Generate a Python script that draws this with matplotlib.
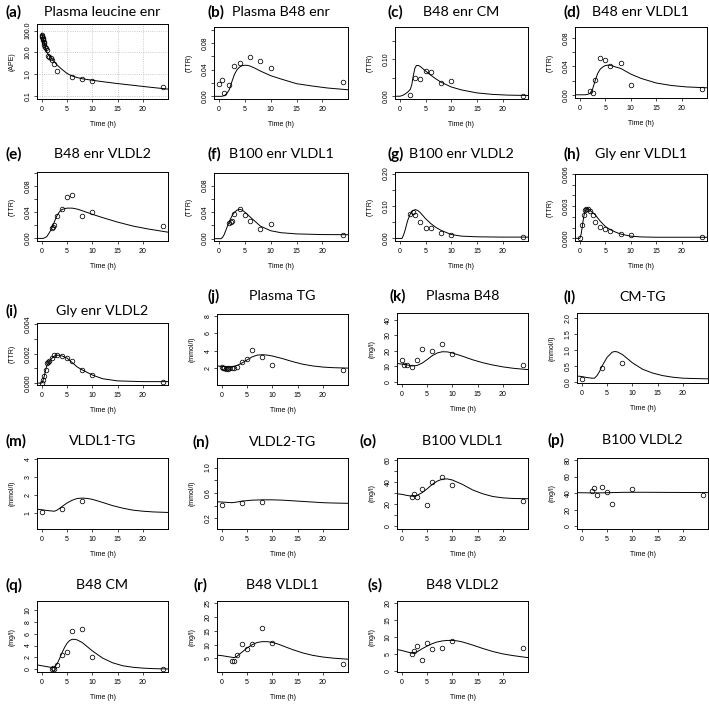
import matplotlib
matplotlib.use("Agg")
import matplotlib.pyplot as plt

W, H = 709, 707

# (a) Plasma leucine enr
a_obs_t = [0, 0.05, 0.1, 0.15, 0.2, 0.25, 0.33, 0.42, 0.5, 0.67, 0.83, 1, 1.25, 1.5, 1.75, 2, 2.5, 3, 6, 8, 10, 24]
a_obs_y = [60, 55, 50, 45, 40, 35, 30, 26, 22, 18, 15, 13, 6.5, 6.2, 5.5, 4.5, 3.0, 1.4, 0.72, 0.57, 0.48, 0.24]
a_fit_t = [0, 0.25, 0.5, 0.75, 1, 1.5, 2, 2.5, 3, 4, 5, 6, 7, 8, 10, 12, 15, 18, 21, 25]
a_fit_y = [75, 40, 24, 15, 10, 6.5, 4.8, 3.5, 2.6, 1.6, 1.05, 0.8, 0.68, 0.6, 0.51, 0.44, 0.36, 0.3, 0.25, 0.2]

# (b) Plasma B48 enr
b_obs_t = [0, 0.5, 1, 2, 3, 4, 6, 8, 10, 24]
b_obs_y = [0.018, 0.024, 0.0055, 0.017, 0.046, 0.050, 0.059, 0.053, 0.042, 0.021]
b_fit_t = [-1, 0.5, 1, 1.5, 2, 2.5, 3, 3.5, 4, 4.5, 5, 5.5, 6, 7, 8, 10, 12, 15, 18, 21, 25]
b_fit_y = [0, 0, 0.001, 0.004, 0.010, 0.022, 0.033, 0.040, 0.044, 0.046, 0.0466, 0.0464, 0.0455, 0.042, 0.038,
           0.031, 0.026, 0.019, 0.0155, 0.0125, 0.0098]

# (c) B48 enr CM
c_obs_t = [2, 3, 4, 5, 6, 8, 10, 24]
c_obs_y = [0.002, 0.05, 0.047, 0.067, 0.065, 0.037, 0.041, 0.0]
c_fit_t = [-1, 0, 0.5, 1, 1.5, 2, 2.3, 2.6, 2.9, 3.2, 3.6, 4, 5, 6, 7, 8, 10, 12, 15, 18, 21, 25]
c_fit_y = [0, 0, 0.002, 0.006, 0.011, 0.018, 0.03, 0.055, 0.075, 0.083, 0.083, 0.08, 0.068, 0.057, 0.047, 0.038,
           0.025, 0.017, 0.009, 0.005, 0.003, 0.002]

# (d) B48 enr VLDL1
d_obs_t = [2, 2.5, 3, 4, 5, 6, 8, 10, 24]
d_obs_y = [0.005, 0.0025, 0.021, 0.051, 0.049, 0.041, 0.045, 0.014, 0.0085]
d_fit_t = [-1, 1, 1.5, 2, 2.5, 3, 3.5, 4, 4.5, 5, 5.5, 6, 7, 8, 10, 12, 15, 18, 21, 25]
d_fit_y = [0, 0, 0.0005, 0.002, 0.008, 0.02, 0.03, 0.036, 0.039, 0.041, 0.0415, 0.0413, 0.039, 0.037, 0.029,
           0.023, 0.0165, 0.013, 0.011, 0.0098]

# (e) B48 enr VLDL2
e_obs_t = [2, 2.25, 2.5, 3, 4, 5, 6, 8, 10, 24]
e_obs_y = [0.016, 0.018, 0.0205, 0.035, 0.045, 0.064, 0.066, 0.034, 0.041, 0.019]
e_fit_t = [-1, 0.3, 0.7, 1, 1.5, 2, 2.5, 3, 3.5, 4, 5, 6, 7, 8, 10, 12, 15, 18, 21, 25]
e_fit_y = [0, 0, 0.0015, 0.003, 0.009, 0.016, 0.026, 0.035, 0.041, 0.0445, 0.0465, 0.0465, 0.045, 0.0425,
           0.037, 0.032, 0.025, 0.019, 0.0145, 0.0095]

# (f) B100 enr VLDL1
f_obs_t = [2, 2.25, 2.5, 3, 4, 5, 6, 8, 10, 24]
f_obs_y = [0.024, 0.025, 0.027, 0.037, 0.044, 0.035, 0.026, 0.015, 0.022, 0.005]
f_fit_t = [-1, 0.4, 0.7, 1, 1.5, 2, 2.5, 3, 3.5, 4, 4.5, 5, 6, 7, 8, 10, 12, 15, 20, 25]
f_fit_y = [0, 0, 0.002, 0.006, 0.016, 0.026, 0.034, 0.040, 0.043, 0.0443, 0.043, 0.040, 0.033, 0.026, 0.019,
           0.012, 0.009, 0.0072, 0.0062, 0.006]

# (g) B100 enr VLDL2
g_obs_t = [2, 2.5, 3, 4, 5, 6, 8, 10, 24]
g_obs_y = [0.075, 0.082, 0.073, 0.052, 0.031, 0.032, 0.017, 0.010, 0.004]
g_fit_t = [-1, 0.4, 0.7, 1, 1.5, 2, 2.5, 3, 3.5, 4, 5, 6, 7, 8, 10, 12, 15, 20, 25]
g_fit_y = [0, 0, 0.01, 0.025, 0.055, 0.075, 0.085, 0.089, 0.086, 0.079, 0.061, 0.046, 0.034, 0.025, 0.012,
           0.007, 0.005, 0.004, 0.004]

# (h) Gly enr VLDL1
h_obs_t = [0, 0.5, 0.75, 1, 1.25, 1.5, 2, 2.5, 3, 4, 5, 6, 8, 10, 24]
h_obs_y = [0.0, 0.00125, 0.0022, 0.00266, 0.0027, 0.0027, 0.00256, 0.0022, 0.00156, 0.0011, 0.00088, 0.0007,
           0.00038, 0.00028, 0.0001]
h_fit_t = [-1, 0, 0.25, 0.5, 0.75, 1, 1.25, 1.5, 1.75, 2, 2.5, 3, 4, 5, 6, 7, 8, 10, 12, 15, 20, 25]
h_fit_y = [0, 0, 0.0004, 0.0012, 0.002, 0.0025, 0.0028, 0.0028, 0.0027, 0.0026, 0.0024, 0.0022, 0.0016,
           0.0011, 0.0008, 0.00058, 0.0004, 0.0002, 0.00013, 0.0001, 0.0001, 0.0001]

# (i) Gly enr VLDL2
i_obs_t = [0, 0.25, 0.5, 0.75, 1, 1.25, 1.5, 2, 2.5, 3, 4, 5, 6, 8, 10, 24]
i_obs_y = [0.0, 0.0002, 0.0005, 0.0009, 0.0014, 0.00145, 0.0015, 0.0017, 0.0019, 0.0019, 0.00185, 0.0017,
           0.0015, 0.0009, 0.00055, 0.0001]
i_fit_t = [-1, 0, 0.25, 0.5, 0.75, 1, 1.5, 2, 2.5, 3, 3.5, 4, 5, 6, 7, 8, 10, 12, 15, 20, 25]
i_fit_y = [0, 0, 0.0002, 0.0005, 0.0009, 0.0012, 0.0015, 0.0017, 0.00185, 0.0019, 0.0019, 0.00185, 0.0017,
           0.0014, 0.0011, 0.0009, 0.00055, 0.0003, 0.00015, 0.0001, 0.0001]

# (j) Plasma TG
j_obs_t = [0, 0.25, 0.5, 0.75, 1, 1.25, 1.5, 2, 2.5, 3, 4, 5, 6, 8, 10, 24]
j_obs_y = [2.1, 2.0, 2.05, 1.95, 2.0, 1.95, 2.0, 2.0, 2.05, 2.15, 2.75, 3.05, 4.1, 3.3, 2.4, 1.8]
j_fit_t = [-1, 0, 1, 2, 3, 4, 5, 6, 7, 8, 9, 10, 12, 14, 16, 18, 20, 22, 25]
j_fit_y = [2.25, 2.2, 2.15, 2.15, 2.3, 2.6, 2.95, 3.3, 3.5, 3.55, 3.5, 3.4, 3.1, 2.75, 2.45, 2.25, 2.12, 2.05, 2.0]

# (k) Plasma B48
k_obs_t = [0, 0.5, 1, 2, 3, 4, 6, 8, 10, 24]
k_obs_y = [14.2, 11, 10.6, 9.8, 13.9, 21.5, 20.2, 24.5, 17.8, 11]
k_fit_t = [-1, 0, 1, 2, 3, 4, 5, 6, 7, 8, 9, 10, 12, 14, 16, 18, 20, 22, 25]
k_fit_y = [11.8, 11.4, 10.9, 10.2, 10.5, 12, 14.3, 16.8, 18.6, 19.4, 19.3, 18.6, 16.5, 14.2, 12.3, 10.8, 9.6,
           8.7, 7.8]

# (l) CM-TG
l_obs_t = [0, 4, 8]
l_obs_y = [0.1, 0.45, 0.58]
l_fit_t = [-1, 0, 1, 2, 2.5, 3, 3.5, 4, 5, 6, 6.5, 7, 8, 9, 10, 12, 14, 16, 18, 20, 22, 25]
l_fit_y = [0.19, 0.17, 0.14, 0.12, 0.12, 0.2, 0.33, 0.5, 0.77, 0.93, 0.95, 0.94, 0.86, 0.73, 0.6, 0.4, 0.28,
           0.2, 0.15, 0.12, 0.11, 0.1]

# (m) VLDL1-TG
m_obs_t = [0, 4, 8]
m_obs_y = [1.05, 1.22, 1.68]
m_fit_t = [-1, 0, 1, 2, 2.5, 3, 4, 5, 6, 7, 8, 9, 10, 12, 14, 16, 18, 20, 22, 25]
m_fit_y = [1.2, 1.17, 1.13, 1.1, 1.09, 1.15, 1.35, 1.55, 1.7, 1.8, 1.82, 1.8, 1.75, 1.58, 1.4, 1.26, 1.15,
           1.09, 1.05, 1.02]

# (n) VLDL2-TG
n_obs_t = [0, 4, 8]
n_obs_y = [0.41, 0.435, 0.46]
n_fit_t = [-1, 0, 1, 2, 3, 4, 6, 8, 10, 12, 14, 16, 18, 20, 22, 25]
n_fit_y = [0.46, 0.455, 0.45, 0.445, 0.455, 0.47, 0.485, 0.49, 0.49, 0.485, 0.475, 0.465, 0.455, 0.445,
           0.44, 0.435]

# (o) B100 VLDL1
o_obs_t = [2, 2.5, 3, 4, 5, 6, 8, 10, 24]
o_obs_y = [27, 29, 26.4, 34, 19.5, 40.6, 45, 37.5, 23]
o_fit_t = [-1, 0, 1, 2, 3, 4, 5, 6, 7, 8, 9, 10, 12, 14, 16, 18, 20, 22, 25]
o_fit_y = [29.5, 29, 28, 27.3, 28, 30.5, 34, 38, 41, 42.8, 43, 42, 38, 33, 29.5, 27, 25.8, 25.2, 25]

# (p) B100 VLDL2
p_obs_t = [2, 2.5, 3, 4, 5, 6, 10, 24]
p_obs_y = [42.7, 46.8, 37.4, 48, 41, 27.3, 45.6, 38.2]
p_fit_t = [-1, 2, 4, 6, 8, 10, 12, 15, 18, 21, 25]
p_fit_y = [40.6, 40.3, 40.4, 40.7, 41, 41.1, 41.1, 41, 40.9, 40.8, 40.7]

# (q) B48 CM
q_obs_t = [2, 2.25, 2.5, 3, 4, 5, 6, 8, 10, 24]
q_obs_y = [0.1, 0.15, 0.1, 0.66, 2.4, 2.9, 6.4, 6.8, 2.1, 0.1]
q_fit_t = [-1, 0, 1, 2, 2.5, 3, 3.5, 4, 4.5, 5, 5.5, 6, 6.5, 7, 8, 9, 10, 12, 14, 16, 18, 20, 22, 25]
q_fit_y = [0.75, 0.6, 0.45, 0.3, 0.35, 0.9, 1.8, 2.8, 3.7, 4.4, 4.85, 5.05, 5.05, 4.95, 4.5, 3.8, 3.1, 1.9,
           1.1, 0.6, 0.35, 0.2, 0.12, 0.06]

# (r) B48 VLDL1
r_obs_t = [2, 2.5, 3, 4, 5, 6, 8, 10, 24]
r_obs_y = [4.0, 4.0, 6.2, 10.2, 8.4, 10.1, 16.2, 10.7, 2.8]
r_fit_t = [-1, 0, 1, 2, 2.5, 3, 4, 5, 6, 7, 8, 9, 10, 11, 12, 14, 16, 18, 20, 22, 25]
r_fit_y = [6.2, 6.0, 5.7, 5.4, 5.3, 5.8, 7.3, 8.8, 10, 10.8, 11.1, 11.1, 10.8, 10.3, 9.6, 8.2, 7.0, 6.1,
           5.5, 5.1, 4.7]

# (s) B48 VLDL2
s_obs_t = [2, 2.5, 3, 4, 5, 6, 8, 10, 24]
s_obs_y = [5.0, 5.8, 7.2, 3.3, 8.1, 6.4, 6.7, 8.8, 6.7]
s_fit_t = [-1, 0, 1, 2, 3, 4, 5, 6, 7, 8, 9, 10, 11, 12, 14, 16, 18, 20, 22, 25]
s_fit_y = [6.3, 6.0, 5.6, 5.2, 5.6, 6.5, 7.3, 8.0, 8.5, 8.8, 8.95, 8.95, 8.8, 8.5, 7.6, 6.6, 5.7, 5.0, 4.5, 3.9]


def ticks(lo, hi, step):
    n = int(round((hi - lo) / step))
    return [lo + k * step for k in range(n + 1)]


# letter, title, ylabel, data, box (left, top, right, bottom in px), ylim, yticks,
# labelled ticks, fmt, letter x, title y
panels = [
    ("a", "Plasma leucine enr", "(APE)", (a_obs_t, a_obs_y, a_fit_t, a_fit_y), (37, 24, 168, 99),
     (0.07, 200), [0.1, 1, 10, 100], [0.1, 1, 10, 100], "{:.1f}", 5, 12),
    ("b", "Plasma B48 enr", "(TTR)", (b_obs_t, b_obs_y, b_fit_t, b_fit_y), (214, 27, 348, 99),
     (-0.004, 0.104), ticks(0, 0.1, 0.02), [0, 0.04, 0.08], "{:.2f}", 208, 12),
    ("c", "B48 enr CM", "(TTR)", (c_obs_t, c_obs_y, c_fit_t, c_fit_y), (395, 27, 528, 99),
     (-0.0075, 0.187), ticks(0, 0.15, 0.05), [0, 0.1], "{:.2f}", 388, 12),
    ("d", "B48 enr VLDL1", "(TTR)", (d_obs_t, d_obs_y, d_fit_t, d_fit_y), (575, 27, 707, 98),
     (-0.0045, 0.095), ticks(0, 0.08, 0.02), [0, 0.04, 0.08], "{:.2f}", 563, 12),
    ("e", "B48 enr VLDL2", "(TTR)", (e_obs_t, e_obs_y, e_fit_t, e_fit_y), (37, 172, 168, 241),
     (-0.004, 0.102), ticks(0, 0.1, 0.02), [0, 0.04, 0.08], "{:.2f}", 5, 154),
    ("f", "B100 enr VLDL1", "(TTR)", (f_obs_t, f_obs_y, f_fit_t, f_fit_y), (214, 173, 348, 241),
     (-0.0035, 0.099), ticks(0, 0.08, 0.02), [0, 0.04, 0.08], "{:.2f}", 208, 154),
    ("g", "B100 enr VLDL2", "(TTR)", (g_obs_t, g_obs_y, g_fit_t, g_fit_y), (395, 172, 528, 241),
     (-0.008, 0.205), ticks(0, 0.2, 0.05), [0, 0.1, 0.2], "{:.2f}", 388, 154),
    ("h", "Gly enr VLDL1", "(TTR)", (h_obs_t, h_obs_y, h_fit_t, h_fit_y), (575, 174, 707, 241),
     (-0.00025, 0.006), ticks(0, 0.006, 0.001), [0, 0.003, 0.006], "{:.3f}", 563, 154),
    ("i", "Gly enr VLDL2", "(TTR)", (i_obs_t, i_obs_y, i_fit_t, i_fit_y), (37, 323, 168, 385),
     (-0.00013, 0.0041), ticks(0, 0.004, 0.001), [0, 0.002, 0.004], "{:.3f}", 5, 311),
    ("j", "Plasma TG", "(mmol/l)", (j_obs_t, j_obs_y, j_fit_t, j_fit_y), (217, 314, 348, 385),
     (0.05, 8.25), [2, 4, 6, 8], [2, 4, 6, 8], "{:.0f}", 208, 296),
    ("k", "Plasma B48", "(mg/l)", (k_obs_t, k_obs_y, k_fit_t, k_fit_y), (397, 313, 528, 384),
     (-1.5, 44.5), ticks(0, 40, 10), ticks(0, 40, 10), "{:.0f}", 390, 296),
    ("l", "CM-TG", "(mmol/l)", (l_obs_t, l_obs_y, l_fit_t, l_fit_y), (577, 313, 708, 383),
     (-0.03, 2.15), ticks(0, 2, 0.5), ticks(0, 2, 0.5), "{:.1f}", 563, 297),
    ("m", "VLDL1-TG", "(mmol/l)", (m_obs_t, m_obs_y, m_fit_t, m_fit_y), (37, 458, 168, 529),
     (0.1, 4.05), [1, 2, 3, 4], [1, 2, 3, 4], "{:.0f}", 5, 441),
    ("n", "VLDL2-TG", "(mmol/l)", (n_obs_t, n_obs_y, n_fit_t, n_fit_y), (217, 458, 348, 529),
     (0.03, 1.15), ticks(0.2, 1.0, 0.2), [0.2, 0.6, 1.0], "{:.1f}", 192, 442),
    ("o", "B100 VLDL1", "(mg/l)", (o_obs_t, o_obs_y, o_fit_t, o_fit_y), (397, 458, 528, 529),
     (-2.5, 62), ticks(0, 60, 10), [0, 20, 40, 60], "{:.0f}", 360, 441),
    ("p", "B100 VLDL2", "(mg/l)", (p_obs_t, p_obs_y, p_fit_t, p_fit_y), (577, 458, 708, 529),
     (-3.3, 82.5), ticks(0, 80, 20), ticks(0, 80, 20), "{:.0f}", 548, 440),
    ("q", "B48 CM", "(mg/l)", (q_obs_t, q_obs_y, q_fit_t, q_fit_y), (37, 601, 168, 672),
     (-0.45, 11.5), ticks(0, 10, 2), ticks(0, 10, 2), "{:.0f}", 5, 585),
    ("r", "B48 VLDL1", "(mg/l)", (r_obs_t, r_obs_y, r_fit_t, r_fit_y), (217, 601, 348, 672),
     (0.05, 25.9), ticks(5, 25, 5), ticks(5, 25, 5), "{:.0f}", 193, 585),
    ("s", "B48 VLDL2", "(mg/l)", (s_obs_t, s_obs_y, s_fit_t, s_fit_y), (397, 601, 528, 672),
     (-0.3, 20.5), ticks(0, 20, 5), ticks(0, 20, 5), "{:.0f}", 368, 585),
]

TICK_FONT = "Liberation Sans"
TITLE_FONT = ["Lato", "DejaVu Sans"]
SMALL = 5

fig = plt.figure(figsize=(W / 100, H / 100), dpi=100)

for (letter, title, ylab, data, box, ylim, yt, ylab_ticks, fmt, lx, ty) in panels:
    obs_t, obs_y, fit_t, fit_y = data
    left, top, right, bottom = box
    ax = fig.add_axes([left / W, 1 - bottom / H, (right - left) / W, (bottom - top) / H])
    if letter == "a":
        ax.set_yscale("log")
        ax.grid(True, ls=":", color="#bbbbbb", lw=0.6)
    ax.plot(fit_t, fit_y, color="black", lw=0.7)
    ax.plot(obs_t, obs_y, "o", mfc="none", mec="black", ms=3.3, mew=0.55)
    ax.set_xlim(-0.96, 24.96)
    ax.set_ylim(*ylim)
    ax.set_xticks([0, 5, 10, 15, 20])
    ax.set_yticks(yt)
    ax.yaxis.set_minor_locator(matplotlib.ticker.NullLocator())
    labels = []
    for v in yt:
        if any(abs(v - u) < 1e-9 for u in ylab_ticks):
            labels.append(fmt.format(v))
        else:
            labels.append("")
    ax.set_yticklabels(labels, fontfamily=TICK_FONT, fontsize=SMALL, rotation=90, va="center")
    ax.set_xticklabels(["0", "5", "10", "15", "20"], fontfamily=TICK_FONT, fontsize=SMALL)
    ax.tick_params(direction="out", length=2.2, width=0.5, pad=1.5)
    ax.tick_params(axis="x", pad=3)
    for sp in ax.spines.values():
        sp.set_linewidth(0.7)
    hpx = bottom - top
    ax.set_xlabel("Time (h)", fontfamily=TICK_FONT, fontsize=SMALL)
    ax.xaxis.set_label_coords(0.5, -22 / hpx)
    ax.set_ylabel(ylab, fontfamily=TICK_FONT, fontsize=SMALL)
    ax.yaxis.set_label_coords(-21 / (right - left), 0.5)
    fig.text((left + right) / 2 / W, 1 - ty / H, title, fontfamily=TITLE_FONT, fontsize=10.3,
             ha="center", va="center")
    fig.text(lx / W, 1 - ty / H, "(" + letter + ")", fontfamily=TITLE_FONT, fontsize=11,
             fontweight="bold", ha="left", va="center")

fig.savefig("out.png", dpi=100)
